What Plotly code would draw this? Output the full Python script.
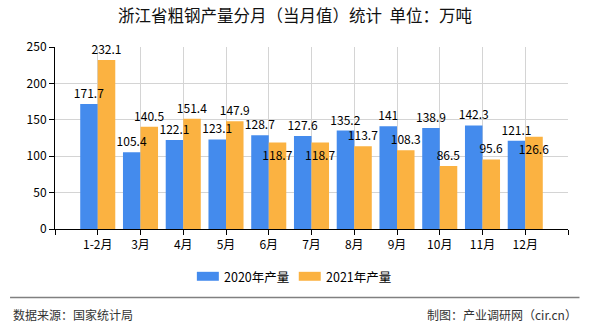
import plotly.graph_objects as go

categories = ["1-2月", "3月", "4月", "5月", "6月", "7月", "8月", "9月", "10月", "11月", "12月"]
values_2020 = [171.7, 105.4, 122.1, 123.1, 128.7, 127.6, 135.2, 141, 138.9, 142.3, 121.1]
values_2021 = [232.1, 140.5, 151.4, 147.9, 118.7, 118.7, 113.7, 108.3, 86.5, 95.6, 126.6]
series_names = ["2020年产量", "2021年产量"]
y_ticks = [0, 50, 100, 150, 200, 250]

title_text = "浙江省粗钢产量分月（当月值）统计  单位：万吨"
source_text = "数据来源：国家统计局"
credit_text = "制图：产业调研网（cir.cn）"

W, H = 590, 330
ML, MR, MT, MB = 55, 21.5, 46.7, 100.5
PW = W - ML - MR
PH = H - MT - MB

def px_x(px):
    return (px - ML) / PW

def px_y(py):
    return (H - MB - py) / PH

FONT = "Noto Sans CJK SC"
BLUE = "#448bed"
ORANGE = "#fbb241"
BAR_W = 0.41

xpos = list(range(len(categories)))

def fmt(v):
    return f"{v:g}"

# label placement style for the 2021 series (some labels sit inside the bar top)
inside_2021 = {"6月", "7月", "12月"}
pos_2021 = ["inside" if c in inside_2021 else "outside" for c in categories]

series = [
    (series_names[0], values_2020, BLUE, -BAR_W, ["outside"] * len(categories)),
    (series_names[1], values_2021, ORANGE, 0.0, pos_2021),
]

fig = go.Figure()
# bars
for name, vals, color, off, _ in series:
    fig.add_trace(go.Bar(
        x=xpos, y=vals, name=name, offset=off, width=BAR_W,
        marker=dict(color=color, line=dict(width=0)),
        hoverinfo="skip", showlegend=False,
    ))
# labels drawn on top of all bars
for name, vals, color, off, tpos in series:
    fig.add_trace(go.Bar(
        x=xpos, y=vals, name=name + " 标签", offset=off, width=BAR_W,
        marker=dict(color="rgba(0,0,0,0)", line=dict(width=0)),
        text=[fmt(v) for v in vals], textposition=tpos,
        insidetextanchor="end",
        textfont=dict(family=FONT, size=12, color="#000"),
        insidetextfont=dict(family=FONT, size=12, color="#000"),
        outsidetextfont=dict(family=FONT, size=12, color="#000"),
        cliponaxis=False, constraintext="none", textangle=0,
        showlegend=False, hoverinfo="skip",
    ))

tickvals = list(range(-1, len(categories) + 1))
ticktext = [""] + categories + [""]

fig.update_layout(
    width=W, height=H,
    margin=dict(l=ML, r=MR, t=MT, b=MB, pad=0),
    paper_bgcolor="white", plot_bgcolor="white",
    barmode="overlay",
    uniformtext=dict(mode="show", minsize=12),
    font=dict(family=FONT, size=12, color="#000"),
    title=dict(text=title_text, x=0.5, xanchor="center", y=1 - 16 / H, yanchor="middle",
               font=dict(family=FONT, size=16.5, color="#111")),
    xaxis=dict(range=[-1, len(categories)], tickvals=tickvals, ticktext=ticktext,
               showgrid=True, gridcolor="#d4d4d4", gridwidth=1,
               showline=True, linecolor="#000", linewidth=1,
               ticks="outside", ticklen=5, tickcolor="#000",
               tickfont=dict(family=FONT, size=12, color="#000"), zeroline=False),
    yaxis=dict(range=[0, 250], tickvals=y_ticks,
               showgrid=True, gridcolor="#d4d4d4", gridwidth=1,
               showline=True, linecolor="#000", linewidth=1,
               ticks="outside", ticklen=5, tickcolor="#000",
               tickfont=dict(family=FONT, size=12, color="#000"), zeroline=False),
    showlegend=False,
)

# custom legend: wide rectangles with labels
legend_items = [(series_names[0], BLUE, 197), (series_names[1], ORANGE, 299)]
for name, color, lx in legend_items:
    fig.add_shape(type="rect", xref="paper", yref="paper",
                  x0=px_x(lx), x1=px_x(lx + 22), y0=px_y(272.5), y1=px_y(281.5),
                  fillcolor=color, line=dict(width=0))
    fig.add_annotation(text=name, xref="paper", yref="paper", x=px_x(lx + 25), y=px_y(277),
                       xanchor="left", yanchor="middle", showarrow=False,
                       font=dict(family=FONT, size=12.5, color="#000"))

fig.add_shape(type="line", xref="paper", yref="paper",
              x0=px_x(10), x1=px_x(580), y0=px_y(298.3), y1=px_y(298.3),
              line=dict(color="#808080", width=1.5))
fig.add_annotation(text=source_text, xref="paper", yref="paper", x=px_x(11), y=px_y(315),
                   xanchor="left", yanchor="middle", showarrow=False,
                   font=dict(family=FONT, size=12, color="#333"))
fig.add_annotation(text=credit_text, xref="paper", yref="paper", x=px_x(580), y=px_y(315),
                   xanchor="right", yanchor="middle", showarrow=False,
                   font=dict(family=FONT, size=12, color="#333"))

fig.write_html("out.html")
